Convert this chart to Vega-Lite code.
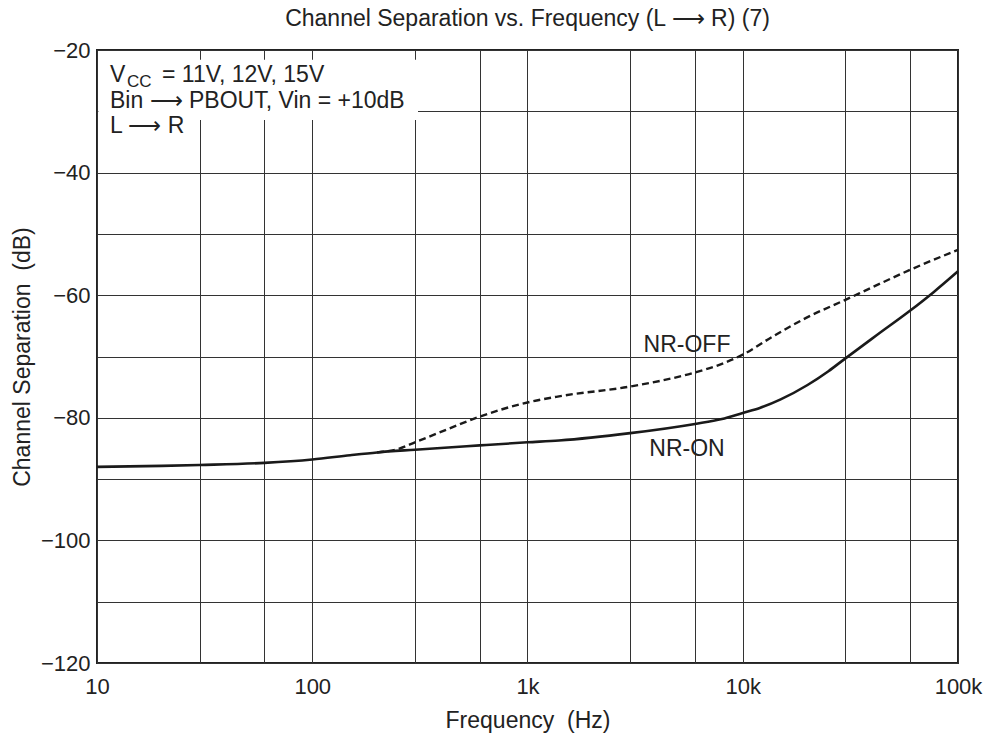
{
  "$schema": "https://vega.github.io/schema/vega-lite/v6.json",
  "width": 861,
  "height": 613,
  "autosize": "none",
  "padding": {"left": 97, "top": 50, "right": 32, "bottom": 75},
  "background": "white",
  "title": {
    "text": "Channel Separation vs. Frequency (L ⟶ R) (7)",
    "font": "Liberation Sans",
    "fontSize": 23,
    "fontWeight": "normal",
    "color": "#222",
    "anchor": "middle",
    "offset": 8
  },
  "config": {
    "font": "Liberation Sans",
    "view": {"stroke": "#222", "strokeWidth": 2},
    "axis": {
      "grid": true,
      "gridColor": "#333",
      "gridWidth": 1,
      "gridOpacity": 1,
      "domain": false,
      "ticks": false,
      "labelFont": "Liberation Sans",
      "labelFontSize": 22,
      "labelColor": "#222",
      "labelOverlap": false,
      "labelFlush": false,
      "titleFont": "Liberation Sans",
      "titleFontSize": 23,
      "titleFontWeight": "normal",
      "titleColor": "#222"
    }
  },
  "datasets": {
    "curves": [
      {"series": "NR-ON", "f": 10, "db": -88.0},
      {"series": "NR-ON", "f": 20, "db": -87.85},
      {"series": "NR-ON", "f": 30, "db": -87.7},
      {"series": "NR-ON", "f": 60, "db": -87.35},
      {"series": "NR-ON", "f": 100, "db": -86.8},
      {"series": "NR-ON", "f": 150, "db": -86.1},
      {"series": "NR-ON", "f": 200, "db": -85.65},
      {"series": "NR-ON", "f": 300, "db": -85.2},
      {"series": "NR-ON", "f": 600, "db": -84.5},
      {"series": "NR-ON", "f": 1000, "db": -84.0},
      {"series": "NR-ON", "f": 1400, "db": -83.7},
      {"series": "NR-ON", "f": 3000, "db": -82.5},
      {"series": "NR-ON", "f": 6000, "db": -81.0},
      {"series": "NR-ON", "f": 8000, "db": -80.2},
      {"series": "NR-ON", "f": 10000, "db": -79.2},
      {"series": "NR-ON", "f": 12000, "db": -78.4},
      {"series": "NR-ON", "f": 15000, "db": -77.0},
      {"series": "NR-ON", "f": 20000, "db": -74.65},
      {"series": "NR-ON", "f": 25000, "db": -72.4},
      {"series": "NR-ON", "f": 30000, "db": -70.3},
      {"series": "NR-ON", "f": 42000, "db": -66.5},
      {"series": "NR-ON", "f": 60000, "db": -62.5},
      {"series": "NR-ON", "f": 77000, "db": -59.5},
      {"series": "NR-ON", "f": 100000, "db": -56.1},
      {"series": "NR-OFF", "f": 200, "db": -85.65},
      {"series": "NR-OFF", "f": 250, "db": -85.1},
      {"series": "NR-OFF", "f": 300, "db": -84.0},
      {"series": "NR-OFF", "f": 390, "db": -82.4},
      {"series": "NR-OFF", "f": 600, "db": -79.8},
      {"series": "NR-OFF", "f": 1000, "db": -77.5},
      {"series": "NR-OFF", "f": 1400, "db": -76.5},
      {"series": "NR-OFF", "f": 3000, "db": -74.9},
      {"series": "NR-OFF", "f": 6000, "db": -72.6},
      {"series": "NR-OFF", "f": 8000, "db": -71.2},
      {"series": "NR-OFF", "f": 10000, "db": -69.7},
      {"series": "NR-OFF", "f": 13700, "db": -66.8},
      {"series": "NR-OFF", "f": 19700, "db": -63.7},
      {"series": "NR-OFF", "f": 30000, "db": -60.75},
      {"series": "NR-OFF", "f": 40000, "db": -58.7},
      {"series": "NR-OFF", "f": 60000, "db": -55.85},
      {"series": "NR-OFF", "f": 100000, "db": -52.6}
    ],
    "boxes": [
      {"f": 10.15, "f2": 310, "db": -21.6, "db2": -31.4},
      {"f": 10.15, "f2": 24, "db": -31.4, "db2": -34.7}
    ],
    "notes": [
      {"key": "main", "text": "V", "f": 10, "db": -25.2},
      {"key": "sub", "text": "CC", "f": 10, "db": -25.2},
      {"key": "vcc", "text": "= 11V, 12V, 15V", "f": 10, "db": -25.2},
      {"key": "main", "text": "Bin ⟶ PBOUT, Vin = +10dB", "f": 10, "db": -29.54},
      {"key": "main", "text": "L ⟶ R", "f": 10, "db": -33.6},
      {"key": "curve", "text": "NR-OFF", "f": 5510, "db": -69.2},
      {"key": "curve", "text": "NR-ON", "f": 5510, "db": -86.3}
    ]
  },
  "encoding": {
    "x": {
      "field": "f",
      "type": "quantitative",
      "scale": {"type": "log", "domain": [10, 100000], "nice": false},
      "axis": {
        "title": "Frequency\u00a0 (Hz)",
        "values": [10, 30, 60, 100, 300, 600, 1000, 3000, 6000, 10000, 30000, 60000, 100000],
        "labelExpr": "datum.value == 10 ? '10' : datum.value == 100 ? '100' : datum.value == 1000 ? '1k' : datum.value == 10000 ? '10k' : datum.value == 100000 ? '100k' : ''",
        "labelPadding": 13,
        "titlePadding": 12
      }
    },
    "y": {
      "field": "db",
      "type": "quantitative",
      "scale": {"domain": [-120, -20], "nice": false, "zero": false},
      "axis": {
        "title": "Channel Separation\u00a0 (dB)",
        "values": [-120, -110, -100, -90, -80, -70, -60, -50, -40, -30, -20],
        "labelExpr": "datum.value % 20 == 0 ? '−' + abs(datum.value) : ''",
        "labelPadding": 7,
        "titlePadding": 6
      }
    }
  },
  "layer": [
    {
      "data": {"name": "boxes"},
      "mark": {"type": "rect", "fill": "white", "stroke": null},
      "encoding": {
        "x2": {"field": "f2"},
        "y2": {"field": "db2"}
      }
    },
    {
      "data": {"name": "curves"},
      "transform": [{"filter": "datum.series == 'NR-ON'"}],
      "mark": {"type": "line", "color": "#1a1a1a", "strokeWidth": 2.6, "interpolate": "monotone"}
    },
    {
      "data": {"name": "curves"},
      "transform": [{"filter": "datum.series == 'NR-OFF'"}],
      "mark": {"type": "line", "color": "#1a1a1a", "strokeWidth": 2.4, "strokeDash": [7, 4], "interpolate": "monotone"}
    },
    {
      "data": {"name": "notes"},
      "transform": [{"filter": "datum.key == 'main'"}],
      "mark": {"type": "text", "align": "left", "baseline": "alphabetic", "dx": 13, "fontSize": 23, "font": "Liberation Sans", "color": "#222"},
      "encoding": {"text": {"field": "text"}}
    },
    {
      "data": {"name": "notes"},
      "transform": [{"filter": "datum.key == 'sub'"}],
      "mark": {"type": "text", "align": "left", "baseline": "alphabetic", "dx": 30, "dy": 5, "fontSize": 17, "font": "Liberation Sans", "color": "#222"},
      "encoding": {"text": {"field": "text"}}
    },
    {
      "data": {"name": "notes"},
      "transform": [{"filter": "datum.key == 'vcc'"}],
      "mark": {"type": "text", "align": "left", "baseline": "alphabetic", "dx": 65, "fontSize": 23, "font": "Liberation Sans", "color": "#222"},
      "encoding": {"text": {"field": "text"}}
    },
    {
      "data": {"name": "notes"},
      "transform": [{"filter": "datum.key == 'curve'"}],
      "mark": {"type": "text", "align": "center", "baseline": "alphabetic", "fontSize": 23, "font": "Liberation Sans", "color": "#222"},
      "encoding": {"text": {"field": "text"}}
    }
  ]
}
